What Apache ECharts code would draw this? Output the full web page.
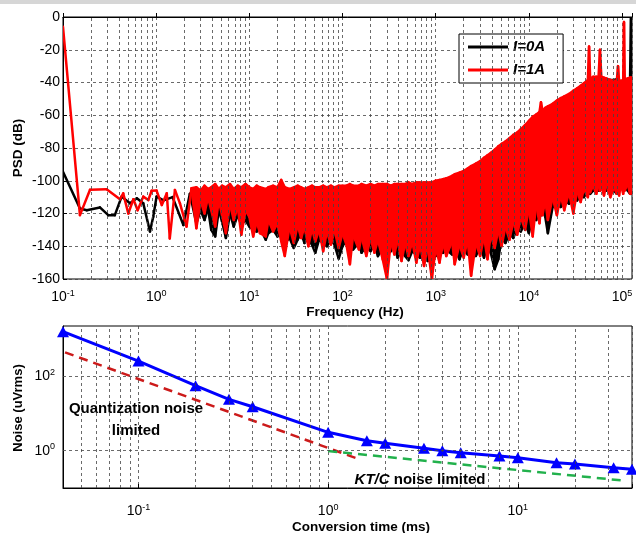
<!DOCTYPE html>
<html>
<head>
<meta charset="utf-8">
<script src="https://cdn.jsdelivr.net/npm/echarts@6/dist/echarts.min.js"></script>
<style>
html, body { margin: 0; padding: 0; background: #fff; }
#chart { width: 636px; height: 533px; }
</style>
</head>
<body>
<div id="chart"></div>
<script>
// ---------- top plot: PSD (dB) vs frequency (Hz) ----------
const legendNames = ['I=0A', 'I=1A'];

// low frequency part, traces are single lines
const redLowFreq = [0.1, 0.152, 0.195, 0.294, 0.409, 0.443, 0.502, 0.569, 0.633, 0.727, 0.823, 0.894, 1.01, 1.15, 1.3, 1.4, 1.59, 1.8, 2.12, 2.39];
const redLowPsd = [-6, -121, -105.5, -105.2, -111.3, -107.7, -120, -111.3, -118, -109.7, -111.8, -106.1, -106, -114.8, -107.7, -135.2, -105.6, -113.8, -128, -104.6];
const blackLowFreq = [0.1, 0.152, 0.18, 0.249, 0.306, 0.36, 0.426, 0.524, 0.62, 0.727, 0.858, 0.93, 1.01, 1.2, 1.5, 1.96, 2.3];
const blackLowPsd = [-94.5, -117, -118, -116.3, -121, -121, -109.7, -113.8, -110.7, -113.8, -131, -122, -109.7, -112, -110, -127, -108];

// dense part, read as upper envelope / lower spikes
const denseFreq = [
  2.7, 3, 3.3, 3.6, 3.9, 4.3, 4.7, 5.1, 5.6, 6.2, 6.8, 7.5, 8.2, 9.1,
  10, 11, 12, 13, 15, 16, 18, 20, 22, 24, 27, 30, 33, 36, 39, 43, 47, 51, 56, 62, 68, 75, 82, 91,
  100, 110, 120, 130, 150, 160, 180, 200, 220, 240, 270, 300, 330, 360, 390, 430, 470, 510, 560, 620, 680, 750, 820, 910,
  1000, 1100, 1200, 1300, 1500, 1600, 1800, 2000, 2200, 2400, 2700, 3000, 3300, 3600, 3900, 4300, 4700, 5100, 5600, 6200, 6800, 7500, 8200, 9100,
  10000, 11000, 12000, 13000, 13500, 14000, 15000, 16000, 18000, 20000, 22000, 24000, 27000, 30000, 33000, 36000, 39000, 43000, 44300, 45500,
  49000, 53000, 56000, 58000, 60000, 64000, 68000, 75000, 82000, 88000, 90600, 93000, 97000, 103000, 105000, 107000, 115000, 122000, 125000, 128000
];
const redTop = [
  -104, -106, -103, -105, -104, -102, -105, -103, -104, -102, -105, -103, -104, -102,
  -104, -105, -103, -104, -105, -104, -103, -104, -99.5, -104, -105, -104, -103, -104, -105, -104, -103, -104, -104, -103, -104, -103, -104, -103,
  -103, -103, -102, -103, -103, -102, -103, -102, -103, -102, -102, -102, -103, -102, -102, -102, -102, -101, -102, -101, -101, -101, -101, -101,
  -100, -99.5, -99, -98.5, -97, -96, -95, -94, -92.5, -91, -89.5, -88, -86, -84.5, -83, -81, -79, -77.5, -76, -74, -72, -70.5, -68.5, -66,
  -63.5, -61, -59.5, -58, -52, -57, -55.5, -54.5, -53, -51, -49.5, -48.5, -47, -45, -43.5, -42, -40.5, -38.5, -18, -37.5,
  -36.5, -36.5, -36.5, -20, -36.5, -37, -37.5, -38.5, -39, -39, -30, -39, -39, -38.5, -3, -38, -37.5, -37, -37, -37
];
const redBottom = [
  -129, -112, -120, -110, -118, -128, -112, -121, -132, -114, -124, -116, -133, -118,
  -122, -134, -125, -132, -134, -124, -131, -126, -137, -146, -128, -138, -127, -135, -128, -140, -129, -137, -130, -143, -131, -139, -130, -141,
  -132, -139, -151, -133, -142, -134, -146, -135, -144, -136, -148, -160, -137, -145, -136, -149, -138, -146, -137, -150, -139, -152, -140, -160,
  -141, -150, -138, -146, -137, -151, -139, -147, -136, -158, -138, -146, -134, -148, -133, -141, -130, -140, -128, -136, -125, -133, -122, -130,
  -117, -134, -114, -126, -116, -121, -112, -124, -110, -121, -109, -118, -107, -120, -106, -113, -105, -110, -104, -107,
  -103, -108, -102, -106, -103, -109, -102, -110, -104, -108, -103, -109, -102, -108, -103, -106, -102, -108, -104, -108
];
const blackTop = [
  -106, -107, -106, -107, -106, -105, -107, -106, -106, -105, -107, -106, -106, -105,
  -106, -107, -105, -106, -107, -106, -105, -106, -105, -106, -107, -106, -105, -106, -107, -106, -105, -106, -106, -105, -106, -105, -106, -105,
  -105, -105, -104, -105, -105, -104, -105, -104, -105, -104, -104, -104, -105, -104, -104, -104, -104, -103, -104, -103, -103, -103, -103, -103,
  -102, -101, -101, -100, -99, -98, -97, -96, -94, -93, -91, -90, -88, -86, -85, -83, -81, -79, -78, -76, -74, -72, -70, -68,
  -65, -63, -61, -60, -59, -59, -57, -56, -55, -53, -51, -50, -49, -47, -45, -44, -42, -40, -40, -39,
  -38, -38, -38, -38, -38, -38, -38, -38.5, -38.5, -38, -38.5, -39, -39.5, -39, -39, -39, -38.5, -38, 0, -38
];
const blackBottom = [
  -126, -118, -124, -117, -130, -134, -118, -125, -135, -120, -128, -121, -127, -124,
  -128, -130, -131, -129, -136, -132, -130, -134, -131, -138, -135, -141, -136, -132, -138, -135, -139, -144, -136, -138, -140, -136, -139, -147.5,
  -140, -136, -141, -142, -138, -144, -140, -143, -139, -146, -141, -145, -143, -140, -147, -142, -146, -148.5, -143, -145, -147, -144, -149, -145,
  -146, -143, -144, -142, -145, -141, -148, -141, -145, -140, -146, -140, -147, -139, -144, -154, -148, -135, -138, -132, -135, -129, -131, -126,
  -132, -122, -124, -118, -121, -117, -122, -132, -116, -114, -116, -112, -114, -110, -112, -108, -110, -106, -104, -108,
  -106, -103, -106, -106, -104, -102, -106, -104, -106, -108, -104, -106, -104, -103, -106, -102, -106, -108, -106, -108
];

// ---------- bottom plot: noise vs conversion time ----------
const convTime = [0.04, 0.1, 0.2, 0.3, 0.4, 1, 1.6, 2, 3.2, 4, 5, 8, 10, 16, 20, 32, 40];
const measNoise = [1545, 253, 55.2, 23.8, 15.1, 3.11, 1.85, 1.58, 1.16, 1.0, 0.88, 0.72, 0.65, 0.476, 0.44, 0.35, 0.317];
const quantTime = [0.041, 1.46];
const quantNoise = [433, 0.587];
const ktcTime = [1, 36.3];
const ktcNoise = [0.98, 0.157];

const FONT = 'Liberation Sans, Arial, sans-serif';
const gridLine = { color: '#444', width: 0.8, type: [3, 3] };

// band = polygon between top and bottom envelope, one quad per step
function bandSeries(name, color, freq, top, bottom) {
  const segs = [];
  for (let i = 0; i < freq.length - 1; i++) {
    segs.push([freq[i], top[i], bottom[i], freq[i + 1], top[i + 1], bottom[i + 1]]);
  }
  return {
    name: name,
    type: 'custom',
    xAxisIndex: 0,
    yAxisIndex: 0,
    clip: true,
    z: 3,
    itemStyle: { color: color },
    encode: { x: [0, 3], y: [1, 2, 4, 5] },
    data: segs,
    renderItem: function (params, api) {
      const a = api.coord([api.value(0), api.value(1)]);
      const b = api.coord([api.value(3), api.value(4)]);
      const c = api.coord([api.value(3), api.value(5)]);
      const d = api.coord([api.value(0), api.value(2)]);
      return {
        type: 'polygon',
        shape: { points: [a, b, c, d] },
        style: { fill: color, stroke: color, lineWidth: 2.5, lineJoin: 'round' }
      };
    }
  };
}

function minorGrid(lo, hi) {
  const out = [];
  for (let e = Math.floor(Math.log10(lo)); e <= Math.ceil(Math.log10(hi)); e++) {
    for (let k = 2; k <= 9; k++) {
      const v = k * Math.pow(10, e);
      if (v > lo * 1.001 && v < hi * 0.999) out.push({ xAxis: v });
    }
  }
  return out;
}

function gridSeries(xi, lines) {
  return {
    type: 'line', xAxisIndex: xi, yAxisIndex: xi, data: [], z: 1, silent: true,
    markLine: {
      silent: true, symbol: ['none', 'none'], label: { show: false },
      lineStyle: gridLine, emphasis: { disabled: true }, animation: false,
      data: lines
    }
  };
}

function powLabel(value, evenOnly) {
  const e = Math.log10(value);
  const r = Math.round(e);
  if (Math.abs(e - r) > 1e-6) return '';
  if (evenOnly && r % 2 !== 0) return '';
  return '{b|10}{s|' + r + '}';
}
const powRich = {
  b: { fontSize: 14, fontFamily: FONT, color: '#000' },
  s: { fontSize: 9, fontFamily: FONT, color: '#000', padding: [0, 0, 8, 0] }
};

const redF = redLowFreq.concat(denseFreq);
const redHi = redLowPsd.concat(redTop);
const redLo = redLowPsd.concat(redBottom);
const blackF = blackLowFreq.concat(denseFreq);
const blackHi = blackLowPsd.concat(blackTop);
const blackLo = blackLowPsd.concat(blackBottom);

const chart = echarts.init(document.getElementById('chart'));
const option = {
  animation: false,
  backgroundColor: '#fff',
  grid: [
    { left: 63, top: 17, width: 569, height: 262, show: true, borderColor: '#000', borderWidth: 1 },
    { left: 63, top: 326, width: 569, height: 162, show: true, borderColor: '#000', borderWidth: 1 }
  ],
  xAxis: [
    {
      type: 'log', gridIndex: 0, min: 0.1, max: 128000, logBase: 10,
      axisLine: { lineStyle: { color: '#000' } },
      axisTick: { inside: true, length: 4, lineStyle: { color: '#000' } },
      axisLabel: { formatter: v => powLabel(v, false), rich: powRich, margin: 10 },
      splitLine: { show: true, lineStyle: gridLine }
    },
    {
      type: 'log', gridIndex: 1, min: 0.04, max: 40, logBase: 10,
      axisLine: { lineStyle: { color: '#000' } },
      axisTick: { inside: true, length: 4, lineStyle: { color: '#000' } },
      axisLabel: { formatter: v => powLabel(v, false), rich: powRich, margin: 15 },
      splitLine: { show: true, lineStyle: gridLine }
    }
  ],
  yAxis: [
    {
      type: 'value', gridIndex: 0, min: -160, max: 0, interval: 20,
      axisLine: { show: true, lineStyle: { color: '#000' } },
      axisTick: { show: true, inside: true, length: 4, lineStyle: { color: '#000' } },
      axisLabel: { color: '#000', fontSize: 14, fontFamily: FONT, margin: 3 },
      splitLine: { show: true, lineStyle: gridLine }
    },
    {
      type: 'log', gridIndex: 1, min: 0.1, max: 2200, logBase: 10,
      axisLine: { show: true, lineStyle: { color: '#000' } },
      axisTick: { show: false },
      axisLabel: { formatter: v => powLabel(v, true), rich: powRich, margin: 8 },
      splitLine: { show: false }
    }
  ],
  legend: {
    data: legendNames,
    left: 459, top: 34, orient: 'vertical',
    icon: 'rect', itemWidth: 40, itemHeight: 3, itemGap: 7,
    padding: [5, 18, 5, 9],
    borderColor: '#000', borderWidth: 1, backgroundColor: '#fff',
    textStyle: { fontSize: 15, fontWeight: 'bold', fontStyle: 'italic', fontFamily: FONT, color: '#000', lineHeight: 16 }
  },
  graphic: [
    { type: 'rect', shape: { x: 0, y: 0, width: 636, height: 4 }, style: { fill: '#d6d6d6' } },
    { type: 'text', x: 18, y: 148, rotation: Math.PI / 2, style: { text: 'PSD (dB)', font: 'bold 13.5px ' + FONT, fill: '#000', align: 'center', verticalAlign: 'middle' } },
    { type: 'text', x: 355, y: 312, style: { text: 'Frequency (Hz)', font: 'bold 13.5px ' + FONT, fill: '#000', align: 'center', verticalAlign: 'middle' } },
    { type: 'text', x: 18, y: 408, rotation: Math.PI / 2, style: { text: 'Noise (uVrms)', font: 'bold 13px ' + FONT, fill: '#000', align: 'center', verticalAlign: 'middle' } },
    { type: 'text', x: 361, y: 527, style: { text: 'Conversion time (ms)', font: 'bold 13.5px ' + FONT, fill: '#000', align: 'center', verticalAlign: 'middle' } },
    { type: 'text', x: 136, y: 409, z: 10, style: { text: 'Quantization noise', font: 'bold 15px ' + FONT, fill: '#000', align: 'center', verticalAlign: 'middle' } },
    { type: 'text', x: 136, y: 431, z: 10, style: { text: 'limited', font: 'bold 15px ' + FONT, fill: '#000', align: 'center', verticalAlign: 'middle' } },
    {
      type: 'text', x: 420, y: 480, z: 10,
      style: {
        text: '{i|KT/C} noise limited', font: 'bold 15px ' + FONT, fill: '#000', align: 'center', verticalAlign: 'middle',
        rich: { i: { fontStyle: 'italic', fontWeight: 'bold', fontSize: 15, fontFamily: FONT, fill: '#000' } }
      }
    }
  ],
  series: [
    gridSeries(0, minorGrid(0.1, 128000)),
    gridSeries(1, minorGrid(0.04, 40).concat([{ yAxis: 1 }, { yAxis: 100 }])),
    bandSeries('I=0A', '#000000', blackF, blackHi, blackLo),
    bandSeries('I=1A', '#ff0000', redF, redHi, redLo),
    {
      name: 'quantization', type: 'line', xAxisIndex: 1, yAxisIndex: 1, z: 3,
      data: quantTime.map((t, i) => [t, quantNoise[i]]),
      showSymbol: false, lineStyle: { color: '#cc1a1a', width: 2.5, type: [9, 6] }
    },
    {
      name: 'ktc', type: 'line', xAxisIndex: 1, yAxisIndex: 1, z: 3,
      data: ktcTime.map((t, i) => [t, ktcNoise[i]]),
      showSymbol: false, lineStyle: { color: '#22b14c', width: 2.5, type: [9, 6] }
    },
    {
      name: 'measured', type: 'line', xAxisIndex: 1, yAxisIndex: 1, z: 4, clip: false,
      data: convTime.map((t, i) => [t, measNoise[i]]),
      symbol: 'triangle', symbolSize: [12, 11], itemStyle: { color: '#0000ff' },
      lineStyle: { color: '#0000ff', width: 3 }
    }
  ]
};
chart.setOption(option);
</script>
</body>
</html>
